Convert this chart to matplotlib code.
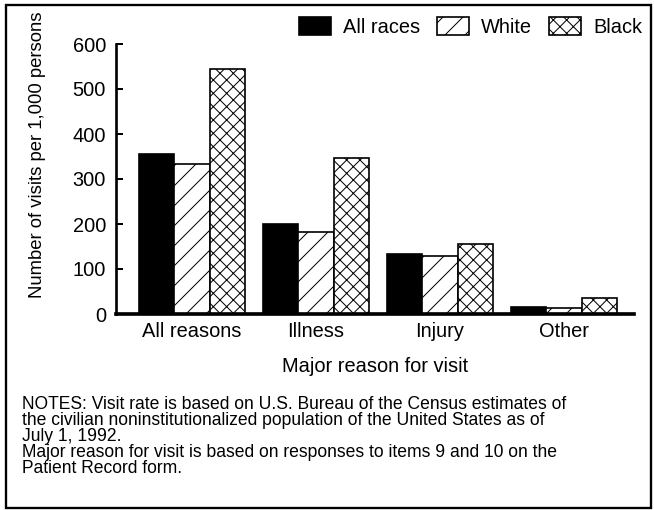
import matplotlib
matplotlib.use('Agg')
import matplotlib.pyplot as plt
import numpy as np
from matplotlib.patches import Rectangle

plt.rcParams['font.family'] = ['Liberation Sans', 'DejaVu Sans']
plt.rcParams['hatch.linewidth'] = 0.6

# ==================================== data ====================================
reasons = ['All reasons', 'Illness', 'Injury', 'Other']
series_names = ['All races', 'White', 'Black']
all_races = [355, 199, 133, 16]
white = [334, 182, 130, 13]
black = [544, 347, 155, 35]
y_ticks = [0, 100, 200, 300, 400, 500, 600]

W, H, DPI = 654, 510, 120
fig = plt.figure(figsize=(W / DPI, H / DPI), dpi=DPI)

# axes placed in pixel terms of the reference
ax_left, ax_right, ax_top, ax_bottom = 116, 634, 44, 314
ax = fig.add_axes([ax_left / W, 1 - ax_bottom / H,
                   (ax_right - ax_left) / W, (ax_bottom - ax_top) / H])

x = np.arange(len(reasons))
bw = 0.285
styles = [dict(facecolor='black', hatch=None),
          dict(facecolor='white', hatch='//'),
          dict(facecolor='white', hatch='xxx')]
for i, (vals, name, st) in enumerate(zip([all_races, white, black], series_names, styles)):
    ax.bar(x + (i - 1) * bw, vals, bw, label=name, edgecolor='black',
           linewidth=1.0, **st)

ax.set_xlim(-0.613, 3.565)
ax.set_ylim(0, 600)
ax.set_yticks(y_ticks)
ax.set_xticks(x)
ax.set_xticklabels(reasons)

for s in ['top', 'right']:
    ax.spines[s].set_visible(False)
ax.spines['left'].set_linewidth(1.6)
ax.spines['bottom'].set_linewidth(2.2)
ax.tick_params(axis='y', direction='in', length=4, width=1.2, pad=6, labelsize=12)
ax.tick_params(axis='x', length=0, pad=5, labelsize=12)

# legend on top
leg = ax.legend(loc='upper left', bbox_to_anchor=(299 / W, 1 - 17 / H),
                bbox_transform=fig.transFigure, ncol=3, frameon=False,
                fontsize=12, handlelength=1.6, handleheight=1.03,
                handletextpad=0.62, columnspacing=0.82,
                borderpad=0, borderaxespad=0)

# axis titles
fig.text(38 / W, 1 - 155 / H, 'Number of visits per 1,000 persons',
         rotation=90, ha='center', va='center', fontsize=11.1)
fig.text((ax_left + ax_right) / 2 / W, 1 - 366 / H, 'Major reason for visit',
         ha='center', va='center', fontsize=12)

# notes
fig.text(22 / W, 1 - 396 / H,
         'NOTES: Visit rate is based on U.S. Bureau of the Census estimates of\n'
         'the civilian noninstitutionalized population of the United States as of\n'
         'July 1, 1992.',
         ha='left', va='top', fontsize=10.5, linespacing=0.93)
fig.text(22 / W, 1 - 444 / H,
         'Major reason for visit is based on responses to items 9 and 10 on the\n'
         'Patient Record form.',
         ha='left', va='top', fontsize=10.5, linespacing=0.93)

# outer frame
fig.patches.append(Rectangle((6 / W, 1 - 508 / H), 645 / W, 503 / H,
                             transform=fig.transFigure, fill=False,
                             edgecolor='black', linewidth=1.4))

fig.savefig('out.png', dpi=DPI)
